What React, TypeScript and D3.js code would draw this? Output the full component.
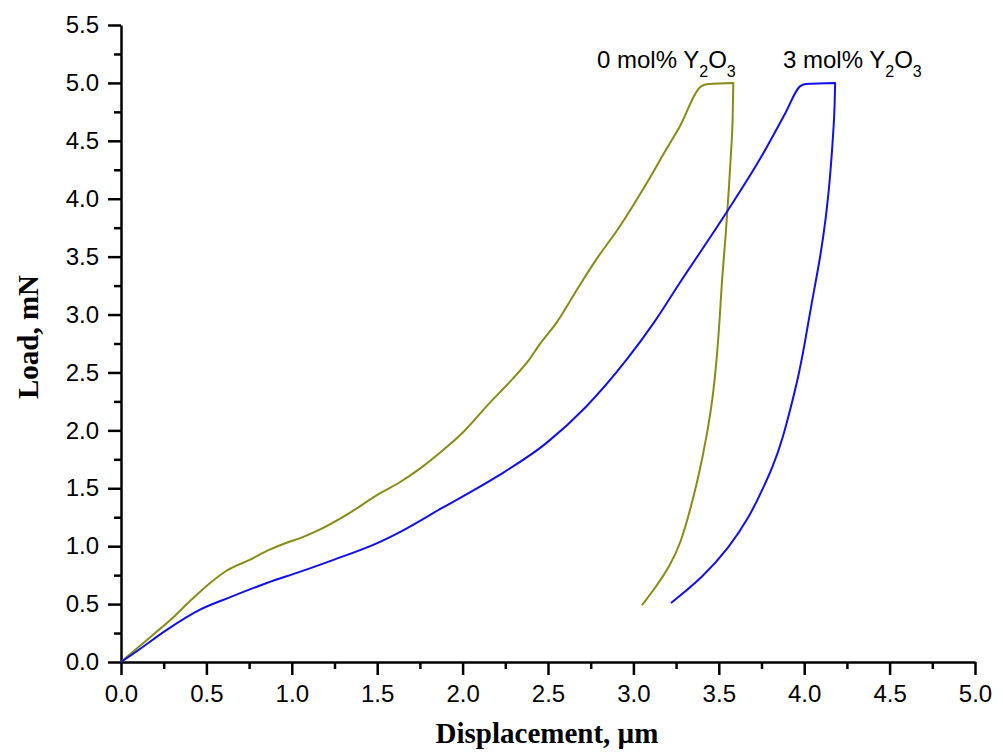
import React, { useEffect, useRef } from 'react';
import * as d3 from 'd3';

// displacement (µm), load (mN)
const loadingZero: [number, number][] = [
  [0, 0], [0.1, 0.125], [0.2, 0.25], [0.287, 0.36], [0.4, 0.52], [0.52, 0.68], [0.62, 0.79],
  [0.75, 0.88], [0.87, 0.97], [0.97, 1.03], [1.05, 1.07], [1.16, 1.14], [1.32, 1.27],
  [1.52, 1.46], [1.63, 1.55], [1.75, 1.67], [1.91, 1.86], [2.0, 1.98], [2.16, 2.24],
  [2.29, 2.44], [2.39, 2.61], [2.45, 2.74], [2.55, 2.93], [2.68, 3.24], [2.78, 3.47],
  [2.92, 3.76], [3.08, 4.14], [3.19, 4.42], [3.27, 4.62], [3.396, 4.97], [3.44, 4.99], [3.585, 5.0],
];
const unloadingZero: [number, number][] = [
  [3.585, 5.0], [3.58, 4.6], [3.577, 4.54], [3.56, 4.1], [3.54, 3.67], [3.52, 3.33], [3.51, 3.08],
  [3.493, 2.69], [3.464, 2.26], [3.425, 1.92], [3.386, 1.63], [3.337, 1.34], [3.279, 1.03],
  [3.21, 0.82], [3.133, 0.65], [3.05, 0.49],
];
const loadingThree: [number, number][] = [
  [0, 0], [0.08, 0.08], [0.27, 0.28], [0.46, 0.45], [0.64, 0.56], [0.85, 0.68], [1.05, 0.78],
  [1.24, 0.88], [1.52, 1.04], [1.63, 1.12], [1.88, 1.33], [2.2, 1.6], [2.49, 1.89],
  [2.72, 2.2], [2.96, 2.61], [3.12, 2.93], [3.27, 3.27], [3.54, 3.87], [3.74, 4.34],
  [3.89, 4.74], [3.975, 4.97], [4.01, 4.99], [4.181, 5.0],
];
const unloadingThree: [number, number][] = [
  [4.181, 5.0], [4.178, 4.8], [4.175, 4.68], [4.156, 4.25], [4.127, 3.82], [4.088, 3.44], [4.047, 3.13],
  [4.0, 2.72], [3.965, 2.46], [3.932, 2.26], [3.873, 1.92], [3.815, 1.68], [3.756, 1.49],
  [3.678, 1.25], [3.561, 0.99], [3.405, 0.73], [3.22, 0.51],
];

const xTicks = [0, 0.5, 1, 1.5, 2, 2.5, 3, 3.5, 4, 4.5, 5];
const yTicks = [0, 0.5, 1, 1.5, 2, 2.5, 3, 3.5, 4, 4.5, 5, 5.5];
const seriesLabels = ['0 mol% Y', '3 mol% Y'];

const W = 1003;
const H = 756;

export default function App() {
  const svgRef = useRef<SVGSVGElement>(null);

  useEffect(() => {
    const svg = d3.select(svgRef.current);
    svg.selectAll('*').remove();

    const x = d3.scaleLinear().domain([0, 5]).range([121, 975]);
    const y = d3.scaleLinear().domain([0, 5.5]).range([662, 25]);

    const font = '"Liberation Sans", Arial, sans-serif';
    const serif = '"Liberation Serif", "Times New Roman", serif';

    // minor ticks
    const xMinor = xTicks.slice(0, -1).map(d => d + 0.25);
    const yMinor = yTicks.slice(0, -1).map(d => d + 0.25);

    svg.append('g')
      .attr('transform', 'translate(0,662)')
      .call(d3.axisBottom(x).tickValues(xMinor).tickSize(7).tickFormat(() => ''))
      .call(g => g.select('.domain').remove())
      .selectAll('line').attr('stroke', '#000').attr('stroke-width', 2.5);

    svg.append('g')
      .attr('transform', 'translate(121,0)')
      .call(d3.axisLeft(y).tickValues(yMinor).tickSize(7).tickFormat(() => ''))
      .call(g => g.select('.domain').remove())
      .selectAll('line').attr('stroke', '#000').attr('stroke-width', 2.5);

    // major axes
    const xAxis = svg.append('g')
      .attr('transform', 'translate(0,662)')
      .call(d3.axisBottom(x).tickValues(xTicks).tickSize(13).tickSizeOuter(0).tickPadding(10).tickFormat(d3.format('.1f')));
    xAxis.select('.domain').attr('stroke', '#000').attr('stroke-width', 2.5);
    xAxis.selectAll('line').attr('stroke', '#000').attr('stroke-width', 2.5);
    xAxis.selectAll('text').attr('font-family', font).attr('font-size', 24).attr('fill', '#000');

    const yAxis = svg.append('g')
      .attr('transform', 'translate(121,0)')
      .call(d3.axisLeft(y).tickValues(yTicks).tickSize(13).tickSizeOuter(0).tickPadding(9).tickFormat(d3.format('.1f')));
    yAxis.select('.domain').attr('stroke', '#000').attr('stroke-width', 2.5);
    yAxis.selectAll('line').attr('stroke', '#000').attr('stroke-width', 2.5);
    yAxis.selectAll('text').attr('font-family', font).attr('font-size', 24).attr('fill', '#000');

    // curves: loading through the points, unloading smoothed with a B-spline
    const loadLine = d3.line<[number, number]>()
      .x(d => x(d[0]))
      .y(d => y(d[1]))
      .curve(d3.curveMonotoneX);
    const unloadLine = d3.line<[number, number]>()
      .x(d => x(d[0]))
      .y(d => y(d[1]))
      .curve(d3.curveBasis);

    const curves = [
      { load: loadingZero, unload: unloadingZero, color: '#8a8a16' },
      { load: loadingThree, unload: unloadingThree, color: '#1010ee' },
    ];
    curves.forEach(c => {
      const d = (loadLine(c.load) || '') + (unloadLine(c.unload) || '').replace(/^M/, 'L');
      svg.append('path')
        .attr('d', d)
        .attr('fill', 'none')
        .attr('stroke', c.color)
        .attr('stroke-width', 2)
        .attr('stroke-linejoin', 'round');
    });

    // series labels with subscripts
    const labelX = [597, 783];
    seriesLabels.forEach((t, i) => {
      const txt = svg.append('text')
        .attr('x', labelX[i])
        .attr('y', 68)
        .attr('font-family', font)
        .attr('font-size', 24)
        .attr('fill', '#000');
      txt.append('tspan').text(t);
      txt.append('tspan').attr('font-size', 16).attr('dy', 9).text('2');
      txt.append('tspan').attr('dy', -9).text('O');
      txt.append('tspan').attr('font-size', 16).attr('dy', 9).text('3');
    });

    // axis titles
    svg.append('text')
      .attr('x', 547)
      .attr('y', 743)
      .attr('text-anchor', 'middle')
      .attr('font-family', serif)
      .attr('font-weight', 'bold')
      .attr('font-size', 29)
      .attr('fill', '#000')
      .text('Displacement, µm');

    svg.append('text')
      .attr('transform', 'translate(38,337) rotate(-90)')
      .attr('text-anchor', 'middle')
      .attr('font-family', serif)
      .attr('font-weight', 'bold')
      .attr('font-size', 29)
      .attr('fill', '#000')
      .text('Load, mN');
  }, []);

  return (
    <svg
      ref={svgRef}
      width={W}
      height={H}
      style={{ position: 'absolute', left: 0, top: 0, background: '#fff' }}
    />
  );
}
